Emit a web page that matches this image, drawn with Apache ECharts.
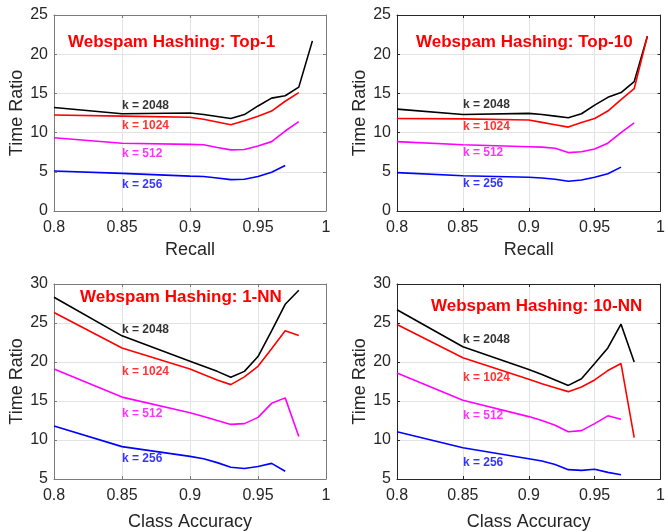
<!DOCTYPE html>
<html>
<head>
<meta charset="utf-8">
<script src="https://cdn.jsdelivr.net/npm/echarts@6/dist/echarts.min.js"></script>
<style>html,body{margin:0;padding:0;background:#fff}#c{width:668px;height:532px}</style>
</head>
<body>
<div id="c"></div>
<script>
// ---- data ----
var xVals = [0.8, 0.85, 0.9, 0.91, 0.92, 0.93, 0.94, 0.95, 0.96, 0.97, 0.98, 0.99];
var kNames = ['k = 2048', 'k = 1024', 'k = 512', 'k = 256'];
var titles = ['Webspam Hashing: Top-1', 'Webspam Hashing: Top-10', 'Webspam Hashing: 1-NN', 'Webspam Hashing: 10-NN'];
var xNames = ['Recall', 'Recall', 'Class Accuracy', 'Class Accuracy'];
var yName = 'Time Ratio';
var xTicks = [0.8, 1, 0.05];
var yTicksTop = [0, 25, 5];
var yTicksBottom = [5, 30, 5];

// Top-1
var top1_k2048 = [13.2, 12.4, 12.5, 12.3, 12.05, 11.8, 12.3, 13.4, 14.4, 14.7, 15.8, 21.7];
var top1_k1024 = [12.25, 12.1, 11.95, 11.7, 11.35, 11.0, 11.5, 12.1, 12.75, 14.0, 15.1, null];
var top1_k512  = [9.35, 8.65, 8.5, 8.45, 8.1, 7.8, 7.85, 8.3, 8.85, 10.2, 11.4, null];
var top1_k256  = [5.1, 4.8, 4.45, 4.4, 4.2, 4.0, 4.05, 4.4, 4.95, 5.8, null, null];
// Top-10
var top10_k2048 = [13.0, 12.3, 12.45, 12.3, 12.1, 11.9, 12.4, 13.5, 14.5, 15.1, 16.5, 22.3];
var top10_k1024 = [11.8, 11.75, 11.6, 11.3, 11.0, 10.7, 11.3, 11.8, 12.75, 14.2, 15.6, 22.3];
var top10_k512  = [8.85, 8.45, 8.2, 8.15, 8.0, 7.45, 7.55, 7.9, 8.65, 10.0, 11.25, null];
var top10_k256  = [4.9, 4.5, 4.3, 4.2, 4.05, 3.8, 3.95, 4.3, 4.75, 5.6, null, null];
// 1-NN
var nn1_k2048 = [28.3, 23.35, 20.1, 19.45, 18.8, 18.05, 18.8, 20.7, 24.0, 27.4, 29.2, null];
var nn1_k1024 = [26.35, 21.8, 19.1, 18.4, 17.7, 17.1, 18.1, 19.45, 21.7, 24.0, 23.4, null];
var nn1_k512  = [19.1, 15.5, 13.5, 13.0, 12.5, 12.0, 12.1, 12.9, 14.7, 15.4, 10.45, null];
var nn1_k256  = [11.8, 9.15, 7.9, 7.6, 7.1, 6.5, 6.35, 6.6, 7.0, 6.0, null, null];
// 10-NN
var nn10_k2048 = [26.7, 21.95, 19.05, 18.4, 17.7, 17.0, 17.85, 19.8, 21.8, 24.85, 20.0, null];
var nn10_k1024 = [24.8, 20.55, 17.8, 17.2, 16.7, 16.2, 16.8, 17.7, 18.9, 19.8, 10.3, null];
var nn10_k512  = [18.6, 15.1, 13.0, 12.5, 11.9, 11.05, 11.2, 12.1, 13.1, 12.65, null, null];
var nn10_k256  = [11.05, 9.0, 7.6, 7.3, 6.85, 6.2, 6.1, 6.25, 5.85, 5.55, null, null];

// label anchor positions (data coords) for curve labels
var labelX = [0.85, 0.85, 0.85, 0.85];
var top1_labelY  = [13.4, 10.85, 7.3, 3.4];
var top10_labelY = [13.5, 10.7, 7.5, 3.45];
var nn1_labelY   = [24.1, 18.7, 13.4, 7.65];
var nn10_labelY  = [22.9, 18.0, 13.1, 7.1];

var panels = [
  {series: [top1_k2048, top1_k1024, top1_k512, top1_k256], labelY: top1_labelY, y: yTicksTop},
  {series: [top10_k2048, top10_k1024, top10_k512, top10_k256], labelY: top10_labelY, y: yTicksTop},
  {series: [nn1_k2048, nn1_k1024, nn1_k512, nn1_k256], labelY: nn1_labelY, y: yTicksBottom},
  {series: [nn10_k2048, nn10_k1024, nn10_k512, nn10_k256], labelY: nn10_labelY, y: yTicksBottom}
];

// ---- layout/style ----
var colors = ['#000000', '#ff0000', '#ff00ff', '#0000ff'];
var grids = [
  {left: 54, top: 15, width: 272, height: 196},
  {left: 397, top: 15, width: 270, height: 196},
  {left: 54, top: 284, width: 272, height: 196},
  {left: 397, top: 284, width: 270, height: 196}
];
var titlePos = [[68, 34], [416, 34], [80, 289], [431, 298]];
var axisCol = ['#7a7a7a', '#262626', '#7a7a7a', '#262626'];
var xNameGap = [30, 30, 34, 34];
var FONT = '"Liberation Sans", Arial, Helvetica, sans-serif';

var option = {
  animation: false,
  backgroundColor: '#ffffff',
  textStyle: {fontFamily: FONT},
  title: [], grid: [], xAxis: [], yAxis: [], series: []
};

panels.forEach(function (p, i) {
  option.grid.push(grids[i]);
  option.title.push({
    text: titles[i], left: titlePos[i][0], top: titlePos[i][1], padding: 0,
    textStyle: {color: '#ff0000', fontSize: 17, fontWeight: 'bold', fontFamily: FONT}
  });
  var lineStyle = {color: axisCol[i], width: 1};
  option.xAxis.push({
    type: 'value', gridIndex: i, min: xTicks[0], max: xTicks[1], interval: xTicks[2],
    name: xNames[i], nameLocation: 'middle', nameGap: xNameGap[i],
    nameTextStyle: {fontSize: 18, color: '#262626', fontFamily: FONT},
    axisLine: {show: true, onZero: false, lineStyle: lineStyle},
    axisTick: {show: true, inside: true, length: 3, lineStyle: lineStyle},
    axisLabel: {fontSize: 16, color: '#262626', margin: 9, fontFamily: FONT},
    splitLine: {show: true, lineStyle: {color: '#e3e3e3', width: 1}}
  });
  option.xAxis.push({
    type: 'value', gridIndex: i, position: 'top', min: xTicks[0], max: xTicks[1], interval: xTicks[2],
    axisLine: {show: true, onZero: false, lineStyle: lineStyle},
    axisTick: {show: true, inside: true, length: 3, lineStyle: lineStyle},
    axisLabel: {show: false}, splitLine: {show: false}
  });
  option.yAxis.push({
    type: 'value', gridIndex: i, min: p.y[0], max: p.y[1], interval: p.y[2],
    name: yName, nameLocation: 'middle', nameGap: 28,
    nameTextStyle: {fontSize: 18, color: '#262626', fontFamily: FONT},
    axisLine: {show: true, onZero: false, lineStyle: lineStyle},
    axisTick: {show: true, inside: true, length: 3, lineStyle: lineStyle},
    axisLabel: {fontSize: 16, color: '#262626', margin: 6, fontFamily: FONT},
    splitLine: {show: true, lineStyle: {color: '#e3e3e3', width: 1}}
  });
  option.yAxis.push({
    type: 'value', gridIndex: i, position: 'right', min: p.y[0], max: p.y[1], interval: p.y[2],
    axisLine: {show: true, onZero: false, lineStyle: lineStyle},
    axisTick: {show: true, inside: true, length: 3, lineStyle: lineStyle},
    axisLabel: {show: false}, splitLine: {show: false}
  });
  var xi = i * 2, yi = i * 2;
  p.series.forEach(function (vals, k) {
    var data = [];
    vals.forEach(function (v, j) { if (v !== null) data.push([xVals[j], v]); });
    option.series.push({
      type: 'line', xAxisIndex: xi, yAxisIndex: yi, data: data,
      showSymbol: false, symbol: 'none', silent: true,
      lineStyle: {color: colors[k], width: 1.6}, z: 3
    });
    option.series.push({
      type: 'scatter', xAxisIndex: xi, yAxisIndex: yi, symbolSize: 0, silent: true,
      data: [[labelX[k], p.labelY[k]]],
      label: {show: true, position: 'right', distance: 0, formatter: kNames[k],
        color: colors[k], fontSize: 12, fontWeight: 'bold', fontFamily: FONT},
      z: 4
    });
  });
});

var chart = echarts.init(document.getElementById('c'), null, {renderer: 'canvas'});
chart.setOption(option);
</script>
</body>
</html>
